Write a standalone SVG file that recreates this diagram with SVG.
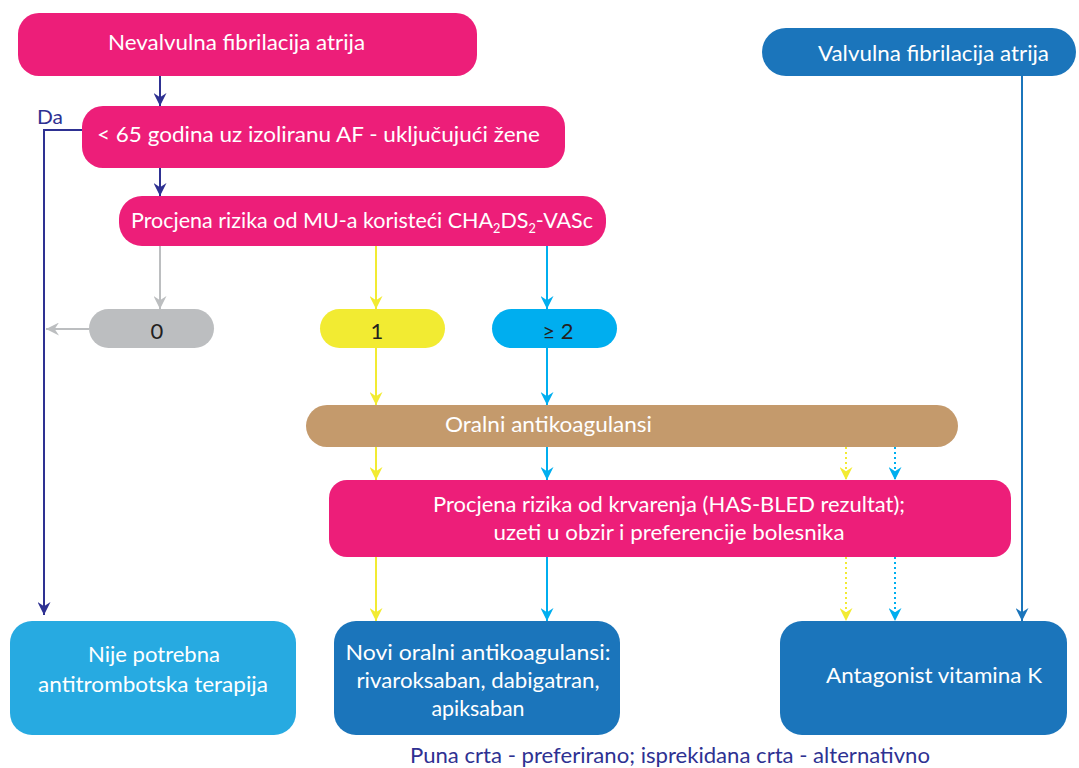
<svg xmlns="http://www.w3.org/2000/svg" width="1079" height="768" viewBox="0 0 1079 768">
<style>
text{font-family:"Lato","Open Sans","Liberation Sans",sans-serif;font-size:22px;}
.w{fill:#ffffff;}
.d{fill:#231f20;}
.pink{fill:#ED1E79;}
.blue{fill:#1B75BB;}
.lblue{fill:#27AAE1;}
.gray{fill:#BCBEC0;}
.yel{fill:#F2EB32;}
.cyan{fill:#00AEEF;}
.brown{fill:#C49A6C;}
.c{fill:none;stroke-width:2;}
.navy{stroke:#2E3192;}
.sg{stroke:#BCBEC0;}
.sy{stroke:#F2EB32;}
.sc{stroke:#00AEEF;}
.sb{stroke:#1B75BB;}
.dot{stroke-dasharray:2 3;}
</style>
<defs>
<marker id="mNavy" viewBox="0 0 12 12" refX="12" refY="6" markerWidth="13" markerHeight="13" markerUnits="userSpaceOnUse" orient="auto"><path d="M0,0 L12,6 L0,12 L4,6 z" fill="#2E3192"/></marker>
<marker id="mGray" viewBox="0 0 12 12" refX="12" refY="6" markerWidth="13" markerHeight="13" markerUnits="userSpaceOnUse" orient="auto"><path d="M0,0 L12,6 L0,12 L4,6 z" fill="#BCBEC0"/></marker>
<marker id="mYel" viewBox="0 0 12 12" refX="12" refY="6" markerWidth="13" markerHeight="13" markerUnits="userSpaceOnUse" orient="auto"><path d="M0,0 L12,6 L0,12 L4,6 z" fill="#F2EB32"/></marker>
<marker id="mCyan" viewBox="0 0 12 12" refX="12" refY="6" markerWidth="13" markerHeight="13" markerUnits="userSpaceOnUse" orient="auto"><path d="M0,0 L12,6 L0,12 L4,6 z" fill="#00AEEF"/></marker>
<marker id="mBlue" viewBox="0 0 12 12" refX="12" refY="6" markerWidth="13" markerHeight="13" markerUnits="userSpaceOnUse" orient="auto"><path d="M0,0 L12,6 L0,12 L4,6 z" fill="#1B75BB"/></marker>
</defs>
<rect width="1079" height="768" fill="#ffffff"/>

<g id="connectors">
<path class="c navy" d="M160,76 V106" marker-end="url(#mNavy)"/>
<path class="c navy" d="M160,168 V196" marker-end="url(#mNavy)"/>
<path class="c navy" d="M82,130 H44 V615" marker-end="url(#mNavy)"/>
<path class="c sg" d="M160,246 V309" marker-end="url(#mGray)"/>
<path class="c sg" d="M89,329 H46" marker-end="url(#mGray)"/>
<path class="c sy" d="M376,246 V309" marker-end="url(#mYel)"/>
<path class="c sy" d="M376,348 V405" marker-end="url(#mYel)"/>
<path class="c sy" d="M376,447 V480" marker-end="url(#mYel)"/>
<path class="c sy" d="M376,557 V621" marker-end="url(#mYel)"/>
<path class="c sc" d="M547,246 V309" marker-end="url(#mCyan)"/>
<path class="c sc" d="M547,348 V405" marker-end="url(#mCyan)"/>
<path class="c sc" d="M547,447 V480" marker-end="url(#mCyan)"/>
<path class="c sc" d="M547,557 V621" marker-end="url(#mCyan)"/>
<path class="c sy dot" d="M846,447 V480" marker-end="url(#mYel)"/>
<path class="c sy dot" d="M846,557 V621" marker-end="url(#mYel)"/>
<path class="c sc dot" d="M895,447 V480" marker-end="url(#mCyan)"/>
<path class="c sc dot" d="M895,557 V621" marker-end="url(#mCyan)"/>
<path class="c sb" d="M1022,76 V621" marker-end="url(#mBlue)"/>
<text x="37" y="124" fill="#2E3192" style="font-size:20px" textLength="26" lengthAdjust="spacingAndGlyphs">Da</text>
</g>

<g id="n-nevalvulna">
<rect class="pink" x="18" y="13" width="459" height="63" rx="21"/>
<text class="w" x="108" y="50" textLength="257" lengthAdjust="spacingAndGlyphs">Nevalvulna fibrilacija atrija</text>
</g>

<g id="n-valvulna">
<rect class="blue" x="762" y="28" width="314" height="48" rx="24"/>
<text class="w" x="818" y="61" textLength="231" lengthAdjust="spacingAndGlyphs">Valvulna fibrilacija atrija</text>
</g>

<g id="n-dob">
<rect class="pink" x="82" y="106" width="483" height="62" rx="21"/>
<text class="w" x="97" y="142" textLength="443" lengthAdjust="spacingAndGlyphs">&lt; 65 godina uz izoliranu AF - uključujući žene</text>
</g>

<g id="n-procjena-mu">
<rect class="pink" x="119" y="196" width="487" height="50" rx="23"/>
<text class="w" x="131" y="228" textLength="462" lengthAdjust="spacingAndGlyphs">Procjena rizika od MU-a koristeći CHA<tspan style="font-size:13px" dy="5">2</tspan><tspan dy="-5">DS</tspan><tspan style="font-size:13px" dy="5">2</tspan><tspan dy="-5">-VASc</tspan></text>
</g>

<g id="n-0">
<rect class="gray" x="89" y="309" width="125" height="39" rx="19.5"/>
<text class="d" x="157" y="339" text-anchor="middle">0</text>
</g>

<g id="n-1">
<rect class="yel" x="320" y="309" width="125" height="39" rx="19.5"/>
<text class="d" x="377" y="339" text-anchor="middle">1</text>
</g>

<g id="n-2">
<rect class="cyan" x="492" y="309" width="125" height="39" rx="19.5"/>
<text class="d" x="558" y="339" text-anchor="middle">≥ 2</text>
</g>

<g id="n-oralni">
<rect class="brown" x="306" y="405" width="652" height="42" rx="21"/>
<text class="w" x="445" y="432" textLength="207" lengthAdjust="spacingAndGlyphs">Oralni antikoagulansi</text>
</g>

<g id="n-hasbled">
<rect class="pink" x="329" y="480" width="682" height="77" rx="18"/>
<text class="w" x="669" y="512" text-anchor="middle" textLength="472" lengthAdjust="spacingAndGlyphs">Procjena rizika od krvarenja (HAS-BLED rezultat);</text>
<text class="w" x="669" y="540" text-anchor="middle" textLength="351" lengthAdjust="spacingAndGlyphs">uzeti u obzir i preferencije bolesnika</text>
</g>

<g id="n-nije">
<rect class="lblue" x="10" y="621" width="286" height="114" rx="22"/>
<text class="w" x="154" y="662" text-anchor="middle" textLength="132" lengthAdjust="spacingAndGlyphs">Nije potrebna</text>
<text class="w" x="153" y="692" text-anchor="middle" textLength="230" lengthAdjust="spacingAndGlyphs">antitrombotska terapija</text>
</g>

<g id="n-noak">
<rect class="blue" x="334" y="621" width="286" height="114" rx="22"/>
<text class="w" x="478" y="660" text-anchor="middle" textLength="265" lengthAdjust="spacingAndGlyphs">Novi oralni antikoagulansi:</text>
<text class="w" x="478" y="688" text-anchor="middle" textLength="243" lengthAdjust="spacingAndGlyphs">rivaroksaban, dabigatran,</text>
<text class="w" x="478" y="716" text-anchor="middle" textLength="93" lengthAdjust="spacingAndGlyphs">apiksaban</text>
</g>

<g id="n-vka">
<rect class="blue" x="780" y="621" width="287" height="114" rx="22"/>
<text class="w" x="934" y="683" text-anchor="middle" textLength="216" lengthAdjust="spacingAndGlyphs">Antagonist vitamina K</text>
</g>

<text x="670" y="763" text-anchor="middle" fill="#2E3192" textLength="520" lengthAdjust="spacingAndGlyphs">Puna crta - preferirano; isprekidana crta - alternativno</text>
</svg>
